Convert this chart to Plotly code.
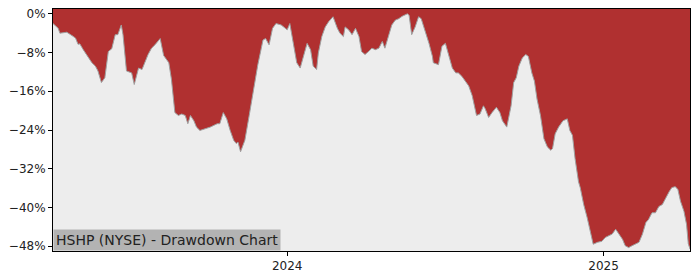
import plotly.graph_objects as go

dates = [
    "2023-04-05","2023-04-11","2023-04-13","2023-04-21","2023-04-27","2023-05-01","2023-05-04","2023-05-06",
    "2023-05-10","2023-05-16","2023-05-20","2023-05-24","2023-05-27","2023-05-31","2023-06-04","2023-06-08",
    "2023-06-12","2023-06-16","2023-06-19","2023-06-23","2023-06-25","2023-06-29","2023-07-05","2023-07-08",
    "2023-07-13","2023-07-17","2023-07-21","2023-07-24","2023-07-28","2023-08-01","2023-08-07","2023-08-11",
    "2023-08-17","2023-08-20","2023-08-24","2023-08-28","2023-09-01","2023-09-05","2023-09-08","2023-09-11",
    "2023-09-15","2023-09-18","2023-09-22","2023-09-28","2023-10-04","2023-10-12","2023-10-15","2023-10-19",
    "2023-10-23","2023-10-27","2023-10-31","2023-11-03","2023-11-05","2023-11-08","2023-11-10","2023-11-13",
    "2023-11-18","2023-11-24","2023-11-28","2023-12-02","2023-12-04","2023-12-07","2023-12-11","2023-12-15",
    "2023-12-19","2023-12-25","2024-01-01","2024-01-04","2024-01-08","2024-01-12","2024-01-16","2024-01-20",
    "2024-01-24","2024-01-28","2024-01-31","2024-02-04","2024-02-06","2024-02-10","2024-02-14","2024-02-18",
    "2024-02-23","2024-02-28","2024-03-02","2024-03-06","2024-03-08","2024-03-12","2024-03-16","2024-03-20",
    "2024-03-24","2024-03-27","2024-03-31","2024-04-04","2024-04-08","2024-04-12","2024-04-16","2024-04-20",
    "2024-04-23","2024-04-27","2024-05-01","2024-05-05","2024-05-09","2024-05-13","2024-05-19","2024-05-21",
    "2024-05-24","2024-05-28","2024-06-01","2024-06-04","2024-06-09","2024-06-13","2024-06-17","2024-06-18",
    "2024-06-24","2024-06-28","2024-07-02","2024-07-06","2024-07-10","2024-07-14","2024-07-17","2024-07-21",
    "2024-07-25","2024-07-29","2024-08-02","2024-08-05","2024-08-07","2024-08-11","2024-08-15","2024-08-17",
    "2024-08-21","2024-08-25","2024-08-30","2024-09-03","2024-09-06","2024-09-11","2024-09-13","2024-09-16",
    "2024-09-19","2024-09-22","2024-09-25","2024-09-29","2024-10-03","2024-10-06","2024-10-10","2024-10-13",
    "2024-10-16","2024-10-20","2024-10-24","2024-10-28","2024-11-01","2024-11-03","2024-11-06","2024-11-10",
    "2024-11-15","2024-11-20","2024-11-23","2024-11-26","2024-11-29","2024-12-03","2024-12-05","2024-12-09",
    "2024-12-13","2024-12-17","2024-12-20","2024-12-25","2024-12-30","2025-01-03","2025-01-07","2025-01-11",
    "2025-01-15","2025-01-19","2025-01-23","2025-01-26","2025-01-30","2025-02-03","2025-02-07","2025-02-11",
    "2025-02-15","2025-02-19","2025-02-22","2025-02-26","2025-03-02","2025-03-06","2025-03-10","2025-03-14",
    "2025-03-18","2025-03-21","2025-03-25","2025-03-28","2025-03-31","2025-04-04","2025-04-07","2025-04-09",
    "2025-04-11",
]

drawdown = [
    -2.0,-3.0,-4.0,-3.8,-4.5,-5.0,-6.3,-6.2,
    -7.4,-9.1,-10.1,-10.8,-11.8,-14.2,-13.2,-7.8,
    -7.2,-4.3,-4.3,-2.3,-4.3,-11.8,-12.2,-14.6,
    -11.2,-11.5,-9.5,-8.4,-7.1,-6.4,-5.1,-8.6,
    -10.1,-13.5,-20.4,-21.0,-20.7,-21.0,-22.7,-21.0,
    -22.1,-23.4,-24.1,-23.7,-23.4,-22.7,-22.7,-20.4,
    -21.7,-24.1,-26.1,-26.8,-26.5,-28.5,-27.5,-26.1,
    -21.0,-14.2,-10.5,-7.1,-5.4,-5.1,-6.4,-3.0,
    -2.0,-2.3,-3.3,-2.0,-6.1,-10.1,-11.2,-8.8,
    -6.1,-7.4,-10.8,-11.5,-8.1,-4.7,-2.7,-1.6,
    -0.6,-3.0,-4.0,-4.7,-2.7,-3.3,-4.3,-3.0,
    -4.7,-7.8,-8.4,-7.8,-7.1,-7.4,-7.1,-5.7,
    -7.1,-4.7,-2.3,-1.3,-1.0,-0.5,0.0,-0.3,
    -4.3,-2.7,-0.6,-1.0,-3.7,-6.1,-8.8,-10.1,
    -10.5,-6.7,-6.1,-8.8,-11.2,-12.2,-12.2,-12.9,
    -13.9,-14.9,-16.9,-19.0,-21.0,-20.7,-19.0,-19.6,
    -21.4,-20.4,-19.3,-20.4,-22.1,-23.4,-21.7,-19.0,
    -14.2,-13.2,-10.8,-9.1,-8.4,-8.8,-12.2,-13.9,
    -17.6,-21.0,-25.8,-27.5,-28.2,-27.8,-24.8,-23.4,
    -22.1,-21.7,-24.1,-25.1,-29.9,-34.7,-35.9,-39.4,
    -42.1,-45.5,-47.6,-47.2,-47.0,-46.2,-45.9,-45.5,
    -44.5,-45.5,-46.6,-47.9,-48.3,-47.9,-47.6,-47.2,
    -45.5,-43.1,-42.5,-41.1,-41.1,-39.8,-39.4,-38.0,
    -36.7,-35.9,-35.7,-36.3,-38.7,-40.8,-43.5,-47.5,
    -48.6,
]

y_ticks = [-48, -40, -32, -24, -16, -8, 0]
y_tick_text = ["\u221248%", "\u221240%", "\u221232%", "\u221224%", "\u221216%", "\u22128%", "0%"]
x_tick_vals = ["2024-01-01", "2025-01-01"]
x_tick_text = ["2024", "2025"]
title_text = "HSHP (NYSE) - Drawdown Chart"

Y_MIN, Y_MAX = -49, 1

fig = go.Figure()
fig.add_trace(go.Scatter(
    x=dates, y=[Y_MAX] * len(dates), mode="lines",
    line=dict(width=0, color="rgba(0,0,0,0)"), hoverinfo="skip", showlegend=False,
))
fig.add_trace(go.Scatter(
    x=dates, y=drawdown, mode="lines", fill="tonexty",
    fillcolor="#b03030", line=dict(color="#a0a0a0", width=1),
    showlegend=False,
))

axis_font = dict(family="DejaVu Sans", size=12, color="#222222")
fig.update_layout(
    width=700, height=280,
    margin=dict(l=53, r=10, t=7, b=28),
    paper_bgcolor="white",
    plot_bgcolor="#ededed",
    showlegend=False,
    xaxis=dict(
        range=[dates[0], dates[-1]],
        tickvals=x_tick_vals, ticktext=x_tick_text,
        ticks="outside", ticklen=4, tickcolor="black", tickwidth=1,
        showline=True, linecolor="black", linewidth=1, mirror=True,
        showgrid=False, zeroline=False, tickfont=axis_font,
    ),
    yaxis=dict(
        range=[Y_MIN, Y_MAX],
        tickvals=y_ticks, ticktext=y_tick_text,
        ticks="outside", ticklen=4, tickcolor="black", tickwidth=1,
        showline=True, linecolor="black", linewidth=1, mirror=True,
        showgrid=False, zeroline=False, tickfont=axis_font,
    ),
    annotations=[dict(
        text=title_text, xref="paper", yref="paper", x=0, y=0,
        xanchor="left", yanchor="bottom", showarrow=False,
        font=dict(family="DejaVu Sans", size=14, color="#222222"),
        bgcolor="#b3b3b3", borderpad=2,
    )],
)

fig.write_html("out.html")
